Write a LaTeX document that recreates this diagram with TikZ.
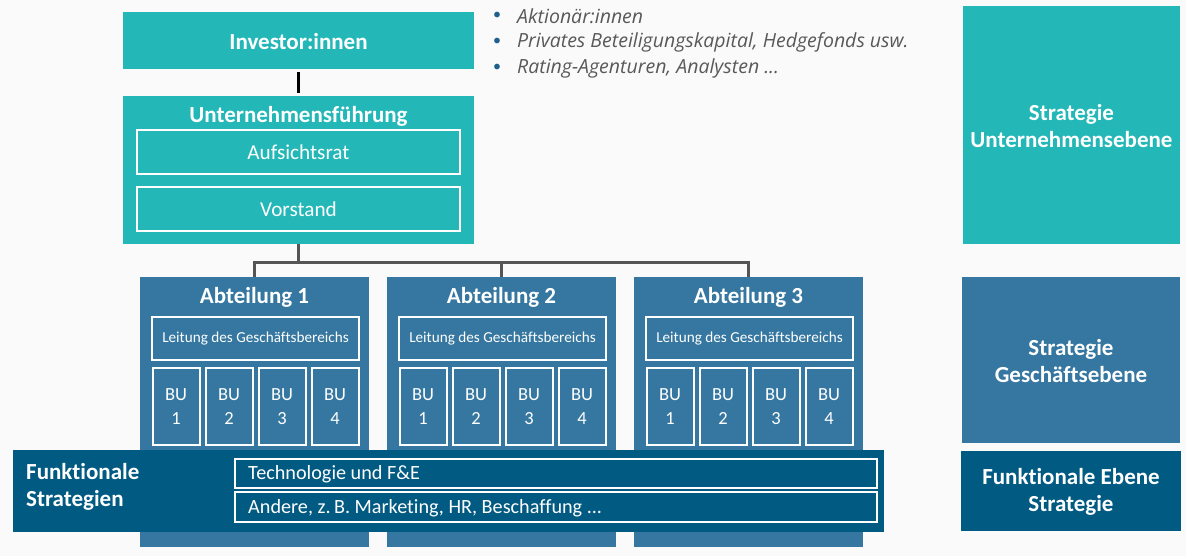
\documentclass[tikz,border=0pt]{standalone}
\usepackage{fontspec}
\setmainfont[Ligatures=NoCommon]{Carlito}
\newfontfamily\bulfont{Open Sans}
\definecolor{bg}{HTML}{FAFAFA}
\definecolor{teal}{HTML}{23B7B8}
\definecolor{midblue}{HTML}{3577A0}
\definecolor{darkblue}{HTML}{005A82}
\definecolor{txtgray}{HTML}{595959}
\definecolor{bulblue}{HTML}{1F5F8B}
\definecolor{linegray}{HTML}{555555}
\begin{document}
\begin{tikzpicture}[x=1pt,y=-1pt,
  box/.style={rectangle,inner sep=0pt,outer sep=0pt,text=white},
  tealbox/.style={box,fill=teal},
  abtbox/.style={box,fill=midblue,minimum width=229pt,minimum height=270pt},
  framebox/.style={box,draw=white,line width=2pt},
  titletxt/.style={text=white,font=\fontsize{23}{27}\selectfont\bfseries,align=center,inner sep=0pt},
  bigtxt/.style={font=\fontsize{21.2}{24}\selectfont},
  leittxt/.style={font=\fontsize{15.2}{18}\selectfont},
  butxt/.style={font=\fontsize{18.5}{24}\selectfont,align=center},
  bultxt/.style={text=txtgray,font=\bulfont\fontsize{19.5}{22}\selectfont\itshape,anchor=west,inner sep=0pt},
  bulmark/.style={text=bulblue,font=\fontsize{16}{20}\selectfont,inner sep=0pt},
  bandtxt/.style={font=\fontsize{20.2}{22}\selectfont,anchor=west,inner sep=0pt,text=white},
  blackconn/.style={draw=black,line width=3.5pt},
  grayconn/.style={draw=linegray,line width=3pt}
]
\useasboundingbox[fill=bg] (0,0) rectangle (1186,556);

% top: investors
\node[tealbox,minimum width=351pt,minimum height=57pt] (inv) at (298.5,40.5) {};
\node[titletxt] (invt) at (298.5,41.5) {Investor:innen};

% corporate governance
\node[tealbox,minimum width=351pt,minimum height=148pt] (ufu) at (298.5,170) {};
\node[titletxt] (ufut) at (298.5,116) {Unternehmensführung};
\node[framebox,minimum width=323pt,minimum height=44pt,bigtxt] (aufs) at (298.5,152) {Aufsichtsrat};
\node[framebox,minimum width=323pt,minimum height=44pt,bigtxt] (vorst) at (298.5,209) {Vorstand};

\draw[blackconn,shorten <=3pt,shorten >=3pt] (inv.south) -- (ufu.north);

% bullets
\node[bulmark] (b1) at (497,16) {•};
\node[bultxt] (t1) at (517,16) {Aktionär:innen};
\node[bulmark] (b2) at (497,42) {•};
\node[bultxt] (t2) at (517,42) {Privates Beteiligungskapital, Hedgefonds usw.};
\node[bulmark] (b3) at (497,68) {•};
\node[bultxt] (t3) at (517,68) {Rating-Agenturen, Analysten ...};

% departments
\foreach \i/\cx in {1/254.5,2/501.5,3/748.5}{
  \node[abtbox] (abt\i) at (\cx,412) {};
  \node[titletxt] (abt\i t) at (\cx,297) {Abteilung \i};
  \node[framebox,minimum width=207pt,minimum height=43pt,leittxt] (leit\i) at (\cx+1,338.5) {Leitung des Geschäftsbereichs};
  \foreach \j/\dx in {1/-79.5,2/-26.5,3/26.5,4/79.5}{
    \node[framebox,minimum width=47pt,minimum height=77pt,butxt] (bu\i\j) at (\cx+1+\dx,406.5) {BU\\\j};
  }
}

\coordinate (hub) at (298.5,262);
\draw[grayconn] (ufu.south) -- (hub);
\draw[grayconn] (hub) -| (abt1.north);
\draw[grayconn] (hub) -| (abt2.north);
\draw[grayconn] (hub) -| (abt3.north);

% functional band
\node[box,fill=darkblue,minimum width=871pt,minimum height=82pt] (band) at (448.5,491) {};
\node[titletxt,align=left,anchor=west] (bandt) at (26,487) {Funktionale\\Strategien};
\node[framebox,minimum width=642pt,minimum height=29pt] (tech) at (556,473.5) {};
\node[bandtxt] (techt) at (248,474.5) {Technologie und F\&E};
\node[framebox,minimum width=642pt,minimum height=30pt] (and) at (556,507) {};
\node[bandtxt] (andt) at (248,508) {Andere, z.\,B. Marketing, HR, Beschaffung ...};

% right column
\node[tealbox,minimum width=217pt,minimum height=238pt] (r1) at (1071.5,125) {};
\node[titletxt] (r1t) at (1071.5,126) {Strategie\\Unternehmensebene};
\node[box,fill=midblue,minimum width=218pt,minimum height=166pt] (r2) at (1071,360) {};
\node[titletxt] (r2t) at (1071,361) {Strategie\\Geschäftsebene};
\node[box,fill=darkblue,minimum width=220pt,minimum height=80pt] (r3) at (1071,491) {};
\node[titletxt] (r3t) at (1071,492) {Funktionale Ebene\\Strategie};
\end{tikzpicture}
\end{document}
